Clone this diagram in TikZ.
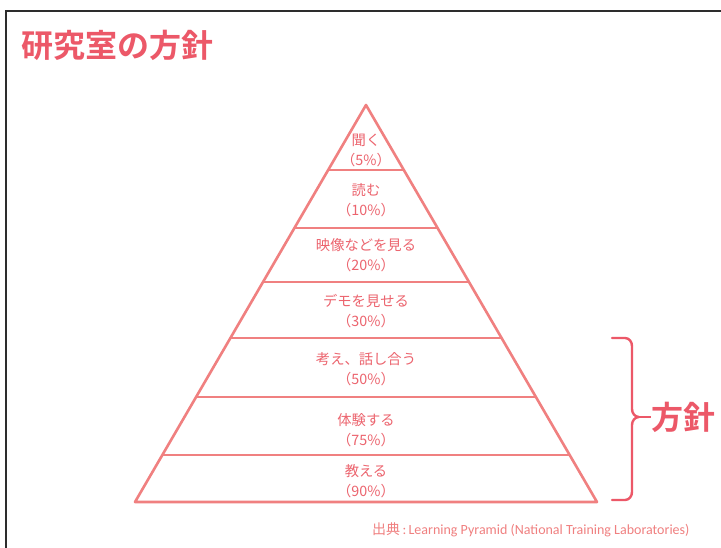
\documentclass[tikz,border=0pt]{standalone}
\usepackage{fontspec}
\setmainfont{Carlito}
\newfontfamily\jp{Noto Sans CJK JP}
\newfontfamily\jpbold{Noto Sans CJK JP Bold}
\usetikzlibrary{calc}
\definecolor{pyr}{RGB}{240,128,128}
\definecolor{lbl}{RGB}{236,100,110}
\definecolor{ttl}{RGB}{236,88,104}
\definecolor{frm}{RGB}{45,45,45}
\tikzset{
  pyrline/.style={draw=pyr,line width=2.6pt,line join=round},
  tierlbl/.style={text=lbl,align=center,font=\jp\fontsize{14.3}{20}\selectfont,inner sep=0pt},
  bigtitle/.style={text=ttl,font=\jpbold\fontsize{32}{36}\selectfont,inner sep=0pt},
}
\begin{document}
\begin{tikzpicture}[x=1pt,y=-1pt]
\useasboundingbox (0,0) rectangle (721,548);
\fill[white] (0,0) rectangle (721,548);
% frame
\draw[frm,line width=2pt] (6,548) -- (6,11) -- (721,11);
% title
\node[bigtitle,anchor=west] (title) at (21,45) {研究室の方針};
% pyramid
\coordinate (apex) at (366,105);
\coordinate (bl) at (135,502);
\coordinate (br) at (597,502);
\draw[pyrline] (apex) -- (bl) -- (br) -- cycle;
\foreach \t/\n in {0.1637/a,0.3098/b,0.4458/c,0.5869/d,0.7355/e,0.8816/f}{
  \coordinate (L\n) at ($(apex)!\t!(bl)$);
  \coordinate (R\n) at ($(apex)!\t!(br)$);
  \draw[pyrline] (L\n) -- (R\n);
}
% labels
\node[tierlbl] (t1) at (366,150) {聞く\\（5\%）};
\node[tierlbl] (t2) at (366,200) {読む\\（10\%）};
\node[tierlbl] (t3) at (366,255) {映像などを見る\\（20\%）};
\node[tierlbl] (t4) at (366,311) {デモを見せる\\（30\%）};
\node[tierlbl] (t5) at (366,369) {考え、話し合う\\（50\%）};
\node[tierlbl] (t6) at (366,430) {体験する\\（75\%）};
\node[tierlbl] (t7) at (366,481) {教える\\（90\%）};
% brace
\draw[draw=ttl,line width=2.4pt,line cap=round,line join=round]
  (612,338) -- (625,338) to[out=0,in=90] (632,346) -- (632,409)
  to[out=-90,in=180] (639,417) to[out=180,in=90] (632,425) -- (632,492)
  to[out=-90,in=0] (625,500) -- (612,500);
\node[bigtitle,anchor=west] (policy) at (651,417) {方針};
\draw[draw=ttl,line width=2.4pt] (639,417) -- (policy.west);
% source
\node[anchor=west,text=pyr,inner sep=0pt,font=\fontsize{14}{16}\selectfont] (src) at (372,530) {{\jp 出典}\,:\,Learning Pyramid (National Training Laboratories)};
\end{tikzpicture}
\end{document}
